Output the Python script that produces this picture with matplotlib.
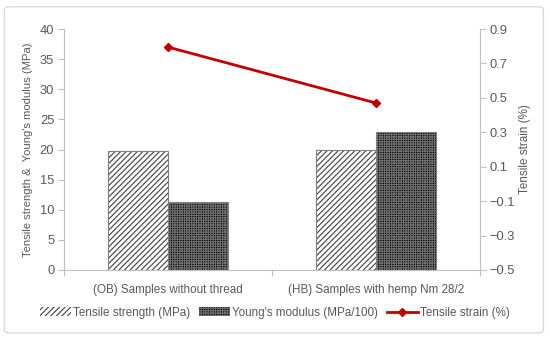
import numpy as np
from matplotlib import pyplot as plt
from matplotlib.patches import Patch, FancyBboxPatch
from matplotlib.lines import Line2D

categories = ["(OB) Samples without thread", "(HB) Samples with hemp Nm 28/2"]
tensile_strength = [19.7, 20.0]
youngs_modulus = [11.3, 22.9]
tensile_strain = [0.795, 0.47]

plt.rcParams['font.family'] = ['Liberation Sans', 'DejaVu Sans']
plt.rcParams['hatch.linewidth'] = 0.8
grey = '#595959'
axis_grey = '#bfbfbf'
fs = 8.4
tfs = 9.3
ts_hatch = '//////'
ym_hatch = '+' * 7
ym_line = '#6e6e6e'

fig = plt.figure(figsize=(5.5, 3.39), dpi=100)
fig.patches.append(FancyBboxPatch((0.008, 0.018), 0.98, 0.962, boxstyle="round,pad=0,rounding_size=0.01",
                                  transform=fig.transFigure, facecolor='none', edgecolor='#d9d9d9', lw=1))
ax = fig.add_axes([64 / 550, 1 - 270 / 339, 416 / 550, 241 / 339])
ax.patch.set_alpha(0)
x = np.arange(len(categories))
w = 0.29

ax.bar(x - w / 2, tensile_strength, w, color='white', edgecolor='#404040', hatch=ts_hatch, lw=0)
ax.bar(x - w / 2, tensile_strength, w, fill=False, edgecolor='#7f7f7f', lw=0.8)
ax.bar(x + w / 2, youngs_modulus, w, color='black', edgecolor=ym_line, hatch=ym_hatch, lw=0)
ax.bar(x + w / 2, youngs_modulus, w, fill=False, edgecolor='#7f7f7f', lw=0.8)

ax.set_xlim(-0.5, 1.5)
ax.set_ylim(0, 40)
ax.set_yticks(range(0, 41, 5))
ax.set_xticks([-0.5, 0.5, 1.5], minor=False)
ax.set_xticklabels([])
ax.set_xticks(x, minor=True)
ax.set_xticklabels(categories, minor=True)
ax.tick_params(axis='x', which='minor', length=0, pad=10, labelsize=fs, labelcolor=grey)
ax.tick_params(axis='x', which='major', length=4, color=axis_grey)
ax.tick_params(axis='y', length=4, color=axis_grey, labelsize=tfs, labelcolor=grey, pad=3)
for s in ['top', 'right']:
    ax.spines[s].set_visible(False)
for s in ['left', 'bottom']:
    ax.spines[s].set_color(axis_grey)
ax.set_ylabel("Tensile strength &  Young's modulus (MPa)", fontsize=8.1, color=grey, labelpad=5)

ax2 = ax.twinx()
ax2.plot(x, tensile_strain, color='#c00000', lw=2, marker='D', markersize=4.5)
ax2.set_ylim(-0.5, 0.9)
ax2.set_yticks(np.arange(-0.5, 0.91, 0.2))
ax2.set_yticklabels(['\u22120.5', '\u22120.3', '\u22120.1', '0.1', '0.3', '0.5', '0.7', '0.9'])
ax2.tick_params(axis='y', length=4, color=axis_grey, labelsize=tfs, labelcolor=grey, pad=3)
for s in ['top', 'left', 'bottom']:
    ax2.spines[s].set_visible(False)
ax2.spines['right'].set_color(axis_grey)
ax2.set_ylabel("Tensile strain (%)", fontsize=fs, color=grey, labelpad=3)

handles = [
    Patch(facecolor='white', edgecolor='#404040', hatch=ts_hatch, lw=0),
    Patch(facecolor='black', edgecolor=ym_line, hatch=ym_hatch, lw=0),
    Line2D([], [], color='#c00000', lw=2, marker='D', markersize=4),
]
labels = ["Tensile strength (MPa)", "Young's modulus (MPa/100)", "Tensile strain (%)"]
fig.legend(handles, labels, loc='center', bbox_to_anchor=(0.50, 1 - 313 / 339), ncol=3, frameon=False,
           fontsize=fs, labelcolor=grey, handlelength=2.6, handleheight=0.8, columnspacing=0.8, handletextpad=0.2)

fig.savefig('out.png', dpi=100)
